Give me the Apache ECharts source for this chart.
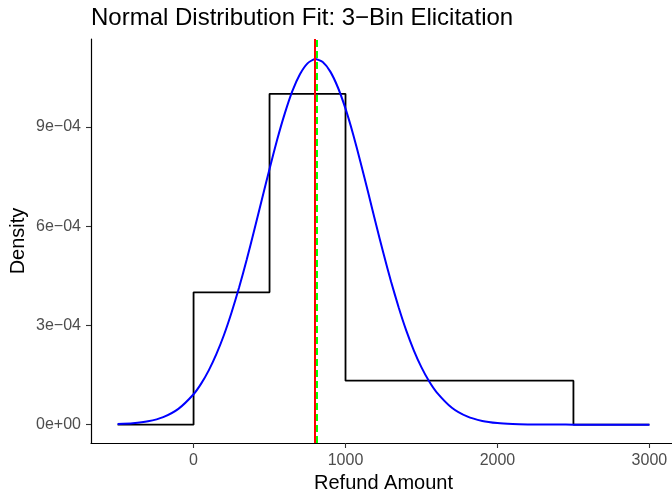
<!DOCTYPE html>
<html>
<head>
<meta charset="utf-8">
<script src="https://cdn.jsdelivr.net/npm/echarts@6/dist/echarts.min.js"></script>
<style>
  html, body { margin: 0; padding: 0; background: #ffffff; }
  #chart { width: 672px; height: 491px; }
</style>
</head>
<body>
<div id="chart"></div>
<script>
// Elicited 3-bin histogram (bin edges and density per bin, step drawn from each edge)
var binEdges = [-500, 0, 500, 1000, 2500, 3000];
var binDensity = [0, 0.0004, 0.001, 0.000133, 0, 0];

// Fitted normal density curve
var fitX = [-500, -400, -300, -200, -100, 0, 50, 100, 150, 200, 250, 300, 350, 400, 450, 500,
            550, 600, 650, 700, 750, 800, 850, 900, 950, 1000, 1050, 1100, 1150, 1200, 1250,
            1300, 1350, 1400, 1450, 1500, 1550, 1600, 1700, 1800, 1900, 2000, 2100, 2200, 2300,
            2400, 2500, 2600, 2700, 2800, 2900, 3000];
var fitDensity = [0.0000016, 0.0000042, 0.0000102, 0.0000229, 0.0000477, 0.0000919, 0.000124,
                  0.000164, 0.000213, 0.000271, 0.000339, 0.000415, 0.000499, 0.000589, 0.000681,
                  0.000773, 0.000861, 0.000940, 0.001008, 0.001059, 0.001092, 0.001105, 0.001096,
                  0.001067, 0.001019, 0.000955, 0.000878, 0.000791, 0.000700, 0.000607, 0.000517,
                  0.000432, 0.000354, 0.000284, 0.000224, 0.000173, 0.000131, 0.0000978, 0.0000511,
                  0.0000248, 0.0000111, 0.0000046, 0.0000018, 0.0000006, 0.0000002, 0.0000001,
                  0, 0, 0, 0, 0, 0];

// Reference lines: elicited value (red) and fitted mean (green, dashed)
var elicitedValue = 800;
var fittedMean = 808;

// Axis ticks
var xTickValues = [0, 1000, 2000, 3000];
var xTickLabels = ['0', '1000', '2000', '3000'];
var yTickValues = [0, 0.0003, 0.0006, 0.0009];
var yTickLabels = ['0e+00', '3e\u221204', '6e\u221204', '9e\u221204'];

var FONT = 'Liberation Sans, Arial, Helvetica, sans-serif';

function zip(xs, ys) {
  return xs.map(function (x, i) { return [x, ys[i]]; });
}

function tickText(values, labels) {
  return function (v) {
    for (var i = 0; i < values.length; i++) {
      if (Math.abs(values[i] - v) < 1e-9 * Math.max(1, Math.abs(v))) return labels[i];
    }
    return '';
  };
}

var chart = echarts.init(document.getElementById('chart'), null, { renderer: 'canvas' });

chart.setOption({
  backgroundColor: '#ffffff',
  animation: false,
  title: {
    text: 'Normal Distribution Fit: 3\u2212Bin Elicitation',
    left: 91,
    top: 6,
    padding: 0,
    textStyle: { fontFamily: FONT, fontSize: 24, fontWeight: 'normal', color: '#000000' }
  },
  grid: { left: 91, top: 39, width: 585, height: 404, outerBoundsMode: 'none', containLabel: false },
  xAxis: {
    type: 'value',
    min: -675,
    max: 3175,
    name: 'Refund Amount',
    nameLocation: 'middle',
    nameGap: 30,
    nameMoveOverlap: false,
    nameTextStyle: { fontFamily: FONT, fontSize: 20, color: '#000000' },
    axisLine: { show: true, onZero: false, lineStyle: { color: '#000000', width: 1.2 } },
    axisTick: { show: true, inside: false, length: 5, customValues: xTickValues, lineStyle: { color: '#333333', width: 1.1 } },
    axisLabel: {
      customValues: xTickValues,
      formatter: tickText(xTickValues, xTickLabels),
      fontFamily: FONT, fontSize: 16, color: '#4d4d4d', margin: 10
    },
    splitLine: { show: false }
  },
  yAxis: {
    type: 'value',
    min: -0.0000555,
    max: 0.0011656,
    name: 'Density',
    nameLocation: 'middle',
    nameRotate: 90,
    nameGap: 63,
    nameMoveOverlap: false,
    nameTextStyle: { fontFamily: FONT, fontSize: 20, color: '#000000' },
    axisLine: { show: true, onZero: false, lineStyle: { color: '#000000', width: 1.2 } },
    axisTick: { show: true, inside: false, length: 5, customValues: yTickValues, lineStyle: { color: '#333333', width: 1.1 } },
    axisLabel: {
      customValues: yTickValues,
      formatter: tickText(yTickValues, yTickLabels),
      fontFamily: FONT, fontSize: 16, color: '#4d4d4d', margin: 10
    },
    splitLine: { show: false }
  },
  series: [
    {
      name: 'Elicited bins',
      type: 'line',
      step: 'end',
      data: zip(binEdges, binDensity),
      symbol: 'none',
      lineStyle: { color: '#000000', width: 1.8 },
      z: 2
    },
    {
      name: 'Normal fit',
      type: 'line',
      data: zip(fitX, fitDensity),
      smooth: 0.2,
      symbol: 'none',
      lineStyle: { color: '#0000ff', width: 2 },
      z: 3
    },
    {
      name: 'Elicited value',
      type: 'line',
      data: [],
      markLine: {
        silent: true,
        symbol: 'none',
        label: { show: false },
        lineStyle: { color: '#ff0000', width: 2, type: 'solid' },
        data: [{ xAxis: elicitedValue }]
      },
      z: 4
    },
    {
      name: 'Fitted mean',
      type: 'line',
      data: [],
      markLine: {
        silent: true,
        symbol: 'none',
        label: { show: false },
        lineStyle: { color: '#00ff00', width: 2, type: [7, 4] },
        data: [{ xAxis: fittedMean }]
      },
      z: 5
    }
  ]
});
</script>
</body>
</html>
